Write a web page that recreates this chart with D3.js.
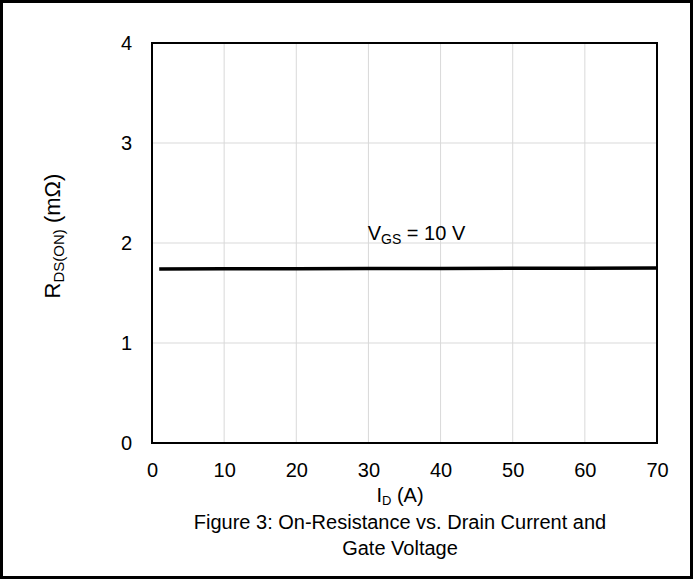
<!DOCTYPE html>
<html>
<head>
<meta charset="utf-8">
<script src="https://cdn.jsdelivr.net/npm/d3@7"></script>
<style>
  body { margin: 0; background: #fff; }
  text { font-family: "Liberation Sans", Arial, sans-serif; fill: #000; }
</style>
</head>
<body>
<script>
// data
const currentA = [1, 10, 20, 30, 40, 50, 60, 70];
const rdsOn = [1.74, 1.742, 1.743, 1.745, 1.746, 1.747, 1.748, 1.75];
const xTicks = [0, 10, 20, 30, 40, 50, 60, 70];
const yTicks = [0, 1, 2, 3, 4];

const w = 693;
const h = 579;
const p = { t: 43, r: 36, b: 136, l: 152 };

const svg = d3.select("body").append("svg")
  .attr("width", w)
  .attr("height", h);

// outer frame
svg.append("rect")
  .attr("x", 1.5).attr("y", 1.5)
  .attr("width", w - 3).attr("height", h - 3)
  .attr("fill", "none")
  .attr("stroke", "#000")
  .attr("stroke-width", 3);

const x = d3.scaleLinear().domain([0, 70]).range([p.l, w - p.r]);
const y = d3.scaleLinear().domain([0, 4]).range([h - p.b, p.t]);

// grid
svg.append("g").selectAll("line")
  .data(xTicks.slice(1, -1))
  .enter().append("line")
  .attr("x1", d => x(d)).attr("x2", d => x(d))
  .attr("y1", y(0)).attr("y2", y(4))
  .attr("stroke", "#d9d9d9").attr("stroke-width", 1);

svg.append("g").selectAll("line")
  .data(yTicks.slice(1, -1))
  .enter().append("line")
  .attr("x1", x(0)).attr("x2", x(70))
  .attr("y1", d => y(d)).attr("y2", d => y(d))
  .attr("stroke", "#d9d9d9").attr("stroke-width", 1);

// axes
const xAxis = svg.append("g")
  .attr("transform", `translate(0, ${y(0)})`)
  .call(d3.axisBottom(x).tickValues(xTicks).tickFormat(d3.format("d")).tickSize(0).tickPadding(20));
const yAxis = svg.append("g")
  .attr("transform", `translate(${x(0)}, 0)`)
  .call(d3.axisLeft(y).tickValues(yTicks).tickFormat(d3.format("d")).tickSize(0).tickPadding(20));
[xAxis, yAxis].forEach(a => {
  a.select(".domain").remove();
  a.selectAll("text")
    .attr("font-size", "20px")
    .attr("font-family", "Liberation Sans, Arial, sans-serif")
    .attr("fill", "#000");
});

// plot frame
svg.append("rect")
  .attr("x", x(0)).attr("y", y(4))
  .attr("width", x(70) - x(0)).attr("height", y(0) - y(4))
  .attr("fill", "none")
  .attr("stroke", "#000")
  .attr("stroke-width", 2);

// curve
const line = d3.line()
  .x((d, i) => x(currentA[i]))
  .y(d => y(d));
svg.append("path")
  .datum(rdsOn)
  .attr("d", line)
  .attr("fill", "none")
  .attr("stroke", "#000")
  .attr("stroke-width", 3.5);

// annotation
const ann = svg.append("text")
  .attr("x", x(29.9)).attr("y", y(2.03))
  .attr("font-size", "20px");
ann.append("tspan").text("V");
ann.append("tspan").attr("font-size", "14px").attr("dy", 4).text("GS");
ann.append("tspan").attr("dy", -4).text(" = 10 V");

// y label
const yl = svg.append("text")
  .attr("transform", "translate(60, 236) rotate(-90)")
  .attr("text-anchor", "middle")
  .attr("font-size", "22px");
yl.append("tspan").text("R");
yl.append("tspan").attr("font-size", "15px").attr("dy", 4).text("DS(ON)");
yl.append("tspan").attr("dy", -4).text(" (mΩ)");

// x label
const cx = 400;
const xl = svg.append("text")
  .attr("x", cx).attr("y", 502)
  .attr("text-anchor", "middle")
  .attr("font-size", "20px");
xl.append("tspan").text("I");
xl.append("tspan").attr("font-size", "13px").attr("dy", 3).text("D");
xl.append("tspan").attr("dy", -3).text(" (A)");

// caption
svg.append("text")
  .attr("x", cx).attr("y", 529)
  .attr("text-anchor", "middle")
  .attr("font-size", "20px")
  .text("Figure 3: On-Resistance vs. Drain Current and");
svg.append("text")
  .attr("x", cx).attr("y", 555)
  .attr("text-anchor", "middle")
  .attr("font-size", "20px")
  .text("Gate Voltage");
</script>
</body>
</html>
